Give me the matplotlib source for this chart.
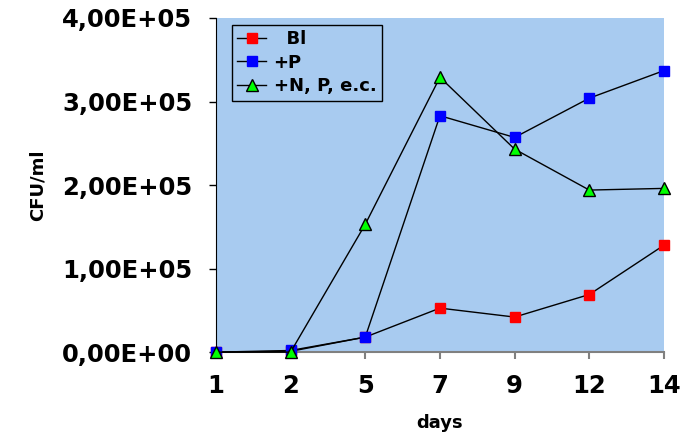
import numpy as np
import matplotlib.pyplot as plt
from matplotlib.ticker import FuncFormatter

days = ['1', '2', '5', '7', '9', '12', '14']
bl = [0, 1000, 18000, 52700, 42000, 69000, 128000]
plus_p = [0, 2000, 18000, 283000, 257000, 304000, 337000]
plus_npec = [0, 0, 153000, 329000, 243000, 194000, 196000]

bg = '#a8cbf0'

fig = plt.figure(figsize=(6.92, 4.38), dpi=100)
ax = fig.add_axes([0.312, 0.196, 0.6475, 0.763])
ax.set_facecolor(bg)

x = np.arange(len(days))
ax.plot(x, bl, color='black', lw=1, marker='s', markersize=7,
        markerfacecolor='#ff0000', markeredgecolor='#ff0000', clip_on=False,
        label='  Bl', zorder=3)
ax.plot(x, plus_p, color='black', lw=1, marker='s', markersize=7,
        markerfacecolor='#0000ff', markeredgecolor='#0000ff', clip_on=False,
        label='+P', zorder=3)
ax.plot(x, plus_npec, color='black', lw=1, marker='^', markersize=9,
        markerfacecolor='#00ff00', markeredgecolor='black', markeredgewidth=1,
        clip_on=False, label='+N, P, e.c.', zorder=4)

ax.set_xlim(0, 6)
ax.set_ylim(0, 400000)
ax.set_xticks(x)
ax.set_xticklabels(days)
ax.set_yticks(np.arange(0, 400001, 100000))
ax.yaxis.set_major_formatter(FuncFormatter(lambda v, p: f'{v:.2E}'.replace('.', ',')))

for s in ['top', 'right']:
    ax.spines[s].set_visible(False)
ax.spines['left'].set_color('black')
ax.spines['bottom'].set_color('#808080')
ax.spines['bottom'].set_linewidth(1.5)
ax.tick_params(axis='y', direction='out', length=5, width=1, colors='black',
               labelsize=17.5, pad=12)
ax.tick_params(axis='x', direction='out', length=5, width=1.5, color='#808080',
               labelcolor='black', labelsize=17.5, pad=11)
for lab in ax.get_xticklabels() + ax.get_yticklabels():
    lab.set_fontweight('bold')

ax.set_xlabel('days', fontsize=13, fontweight='bold', labelpad=11)
ax.set_ylabel('CFU/ml', fontsize=13, fontweight='bold', labelpad=11)

leg = ax.legend(loc='upper left', bbox_to_anchor=(0.036, 0.979),
                frameon=True, fancybox=False, borderpad=0.3, labelspacing=0.3,
                handlelength=1.6, handletextpad=0.4, borderaxespad=0,
                prop={'weight': 'bold', 'size': 13})
leg.get_frame().set_edgecolor('black')
leg.get_frame().set_facecolor(bg)
leg.get_frame().set_alpha(1)

fig.savefig('out.png', dpi=100)
